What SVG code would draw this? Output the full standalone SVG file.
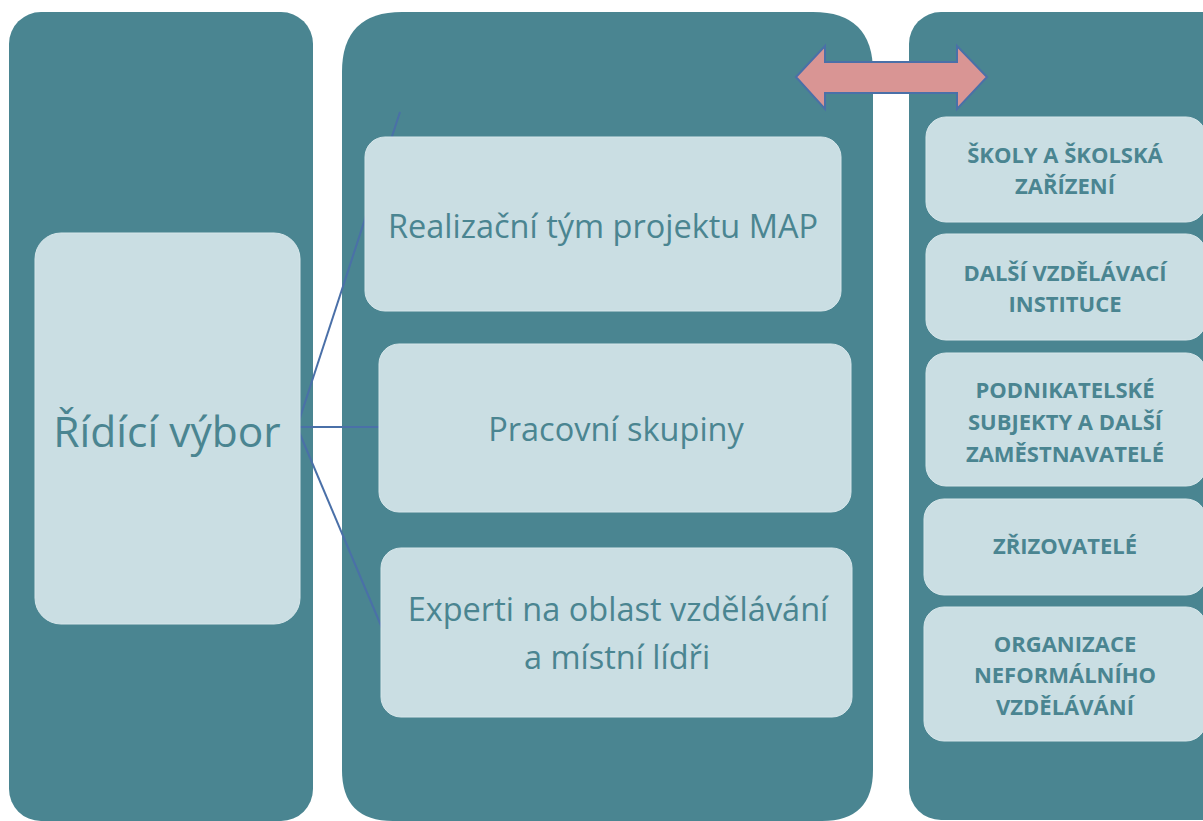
<svg xmlns="http://www.w3.org/2000/svg" width="1203" height="821" viewBox="0 0 1203 821">
<style>
.col{fill:#4a8591}
.box{fill:#cadee3;stroke:#d6e6ea;stroke-width:1}
.t{font-family:"Open Sans","Liberation Sans",sans-serif;fill:#4a8591;text-anchor:middle}
.m{font-size:32.5px}
.b{font-family:"Open Sans","Liberation Sans",sans-serif;fill:#4a8591;text-anchor:middle;font-weight:bold;font-size:22px}
.ln{stroke:#4a70a8;stroke-width:2;fill:none}
</style>
<rect width="1203" height="821" fill="#ffffff"/>
<g id="col-left"><rect class="col" x="9" y="12" width="304" height="809" rx="32"/></g>
<g id="col-mid"><path class="col" d="M342 72 Q342 12 402 12 L813 12 Q873 12 873 72 L873 770 Q873 821 822 821 L393 821 Q342 821 342 770 Z"/></g>
<g id="col-right"><rect class="col" x="909" y="12" width="330" height="808" rx="32"/></g>
<g id="connectors">
<line class="ln" x1="297" y1="427" x2="400" y2="112"/>
<line class="ln" x1="297" y1="427" x2="379" y2="427"/>
<line class="ln" x1="297" y1="427" x2="382" y2="628"/>
</g>
<g id="rizeni"><rect class="box" x="35" y="233" width="265" height="391" rx="26"/>
<text class="t" x="167" y="447" font-size="42.5">Řídící výbor</text></g>
<g id="realizacni"><rect class="box" x="365" y="137" width="476" height="174" rx="20"/>
<text class="t m" x="603" y="238">Realizační tým projektu MAP</text></g>
<g id="pracovni"><rect class="box" x="379" y="344" width="472" height="168" rx="20"/>
<text class="t m" x="616" y="441">Pracovní skupiny</text></g>
<g id="experti"><rect class="box" x="381" y="548" width="471" height="169" rx="20"/>
<text class="t m" x="618" y="621">Experti na oblast vzdělávání</text>
<text class="t m" x="617" y="669">a místní lídři</text></g>
<g id="arrow"><polygon points="796,77 825,46 825,62 957,62 957,46 987,77 957,109 957,93 825,93 825,109" fill="#d99594" stroke="#4a70a8" stroke-width="2" stroke-linejoin="miter"/></g>
<g id="skoly"><rect class="box" x="926" y="117" width="280" height="105" rx="20"/>
<text class="b" x="1065" y="163">ŠKOLY A ŠKOLSKÁ</text><text class="b" x="1065" y="194">ZAŘÍZENÍ</text></g>
<g id="dalsi"><rect class="box" x="926" y="234" width="280" height="106" rx="20"/>
<text class="b" x="1065" y="281">DALŠÍ VZDĚLÁVACÍ</text><text class="b" x="1065" y="312">INSTITUCE</text></g>
<g id="podnikatelske"><rect class="box" x="926" y="353" width="280" height="133" rx="20"/>
<text class="b" x="1065" y="398">PODNIKATELSKÉ</text><text class="b" x="1065" y="430">SUBJEKTY A DALŠÍ</text><text class="b" x="1065" y="462">ZAMĚSTNAVATELÉ</text></g>
<g id="zrizovatele"><rect class="box" x="924" y="499" width="282" height="96" rx="20"/>
<text class="b" x="1065" y="554">ZŘIZOVATELÉ</text></g>
<g id="organizace"><rect class="box" x="924" y="607" width="282" height="134" rx="20"/>
<text class="b" x="1065" y="652">ORGANIZACE</text><text class="b" x="1065" y="683">NEFORMÁLNÍHO</text><text class="b" x="1065" y="715">VZDĚLÁVÁNÍ</text></g>
</svg>
